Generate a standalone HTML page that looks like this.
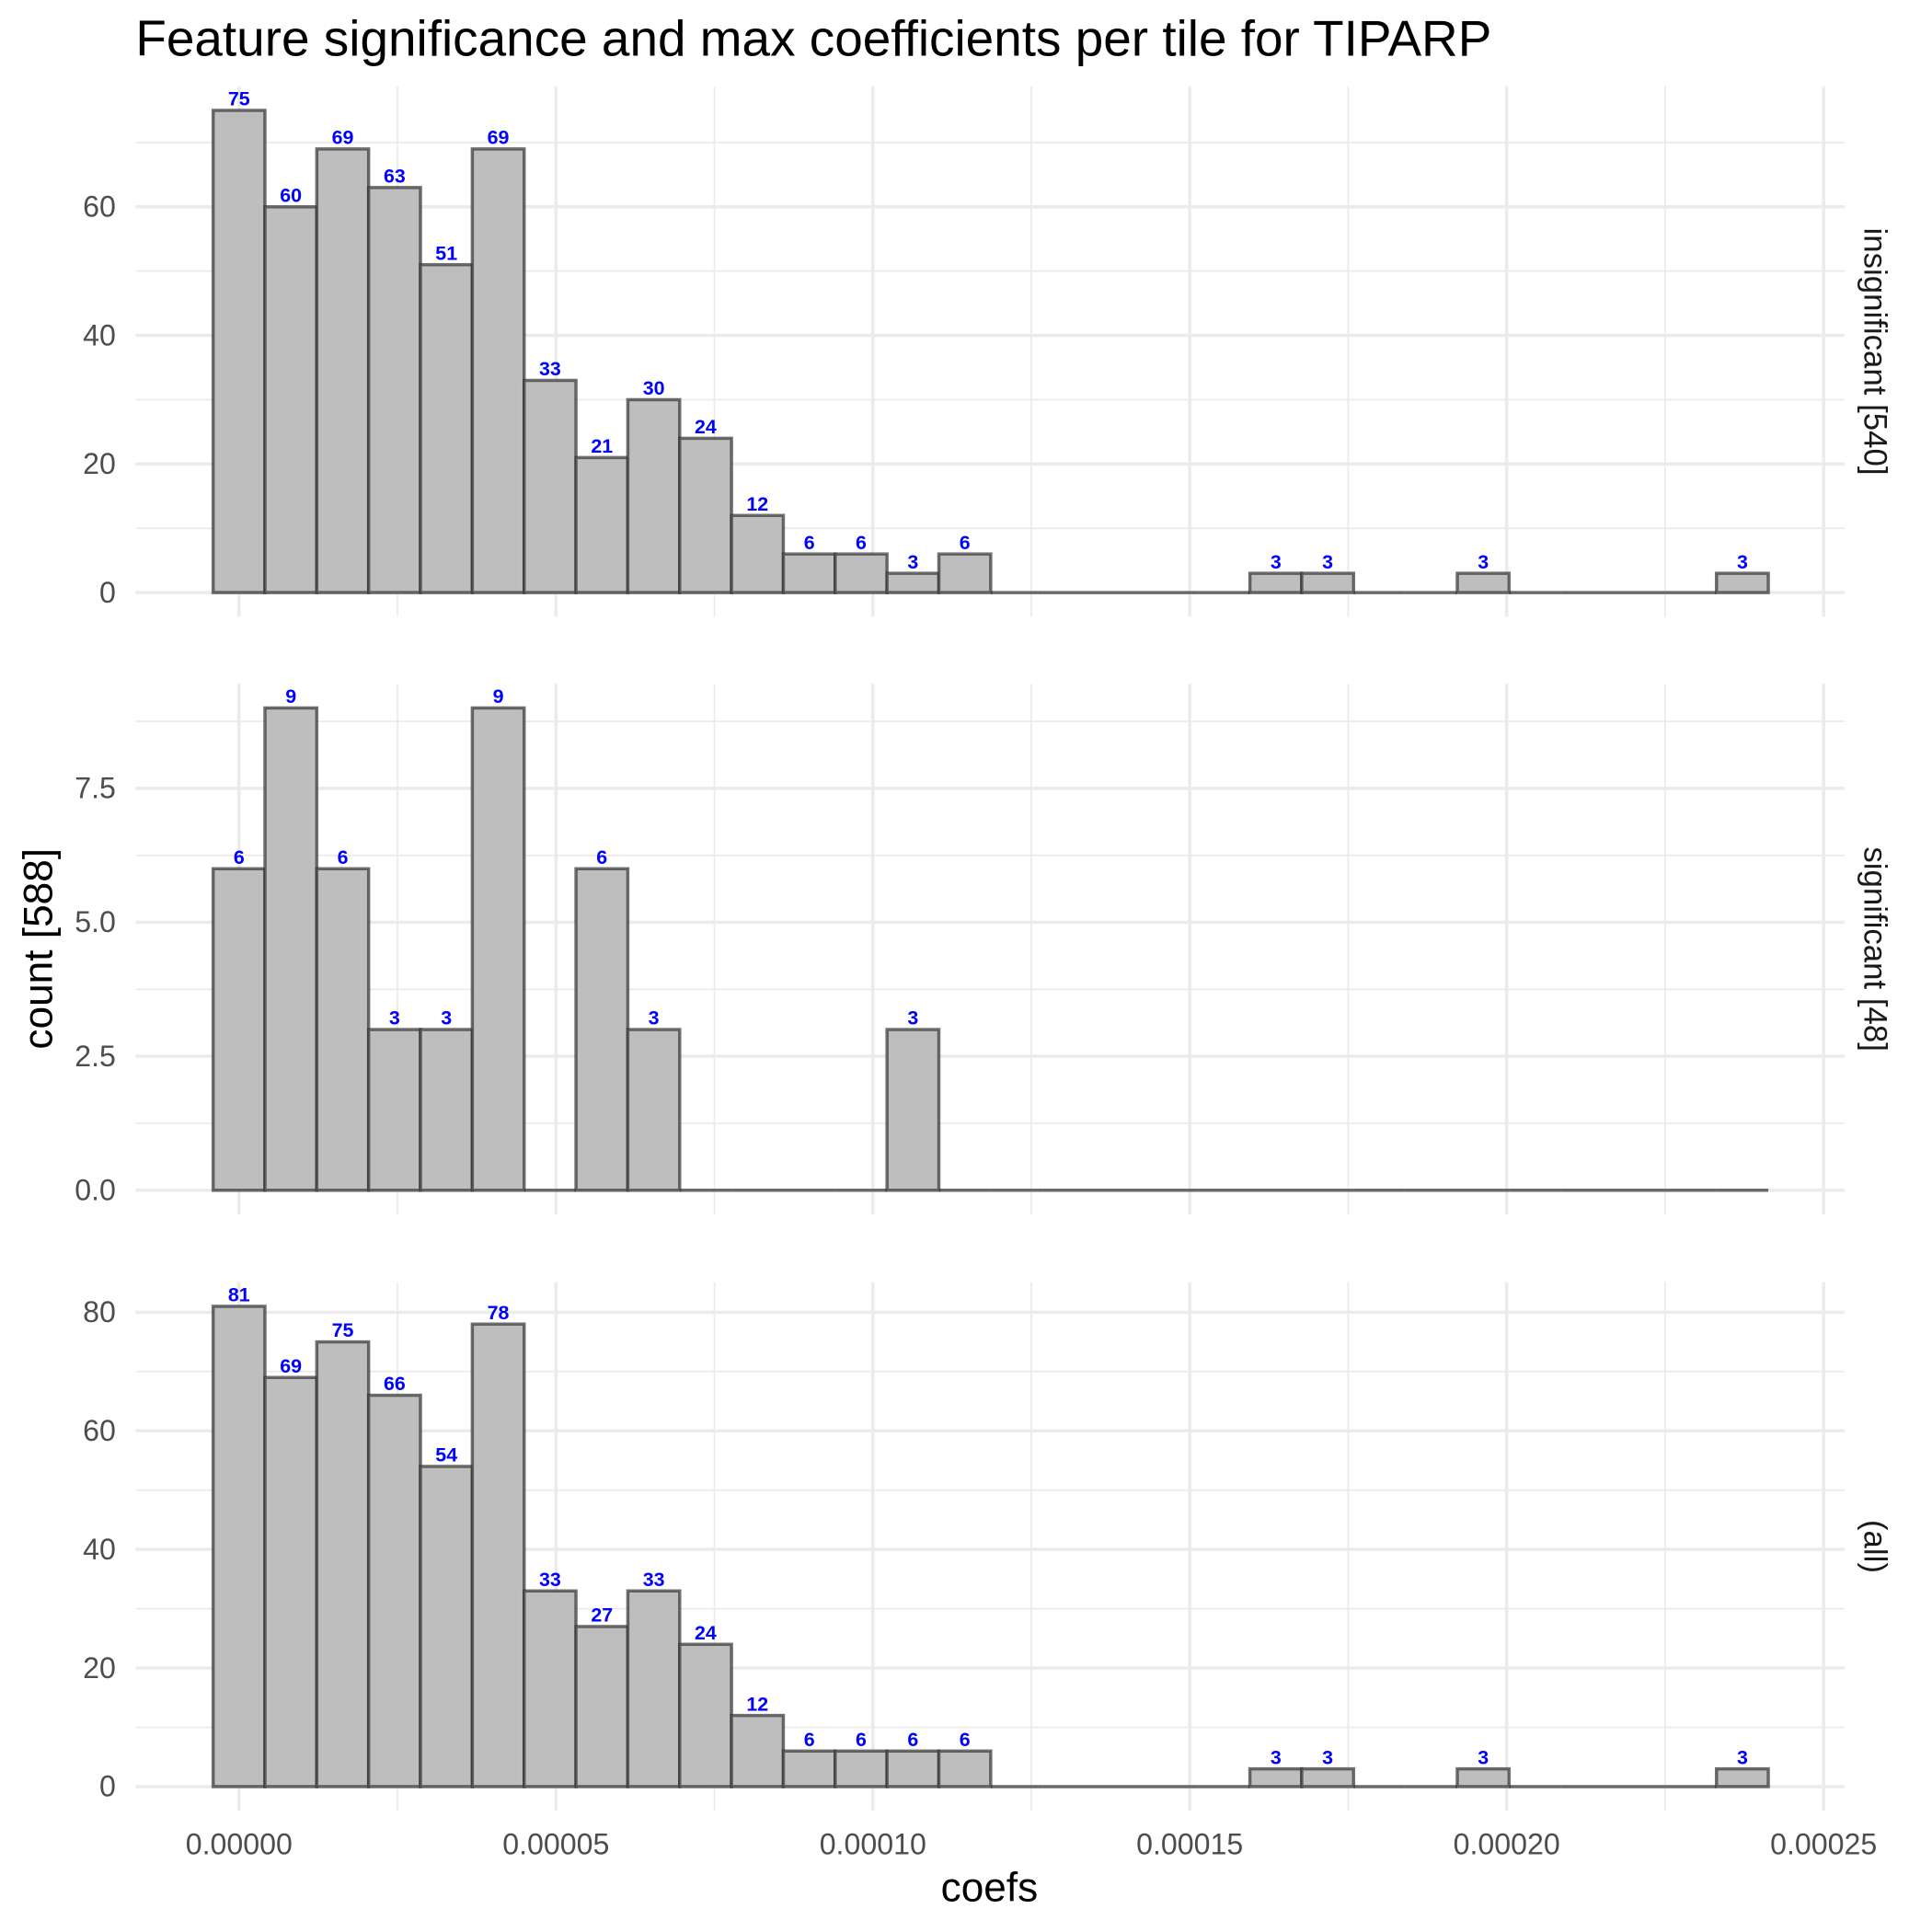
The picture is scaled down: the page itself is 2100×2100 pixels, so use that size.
<!DOCTYPE html>
<html><head><meta charset="utf-8">
<style>html,body{margin:0;padding:0;background:#fff}svg{display:block}</style>
</head><body>
<svg id="chart" xmlns="http://www.w3.org/2000/svg" width="2100" height="2100" viewBox="0 0 1568 1568" font-family="'Liberation Sans', sans-serif">
<rect width="1568" height="1568" fill="#fff"/>
<text x="110" y="45" font-size="41" fill="#000">Feature significance and max coefficients per tile for TIPARP</text>
<text x="803" y="1543" font-size="33" text-anchor="middle" fill="#000">coefs</text>
<text transform="translate(42,770) rotate(-90)" font-size="33" text-anchor="middle" fill="#000">count [588]</text>
<g id="plot"></g>
</svg>
<script>
const panelNames = ["insignificant [540]", "significant [48]", "(all)"];
const countsInsig = [75,60,69,63,51,69,33,21,30,24,12,6,6,3,6,0,0,0,0,0,3,3,0,0,3,0,0,0,0,3];
const countsSig = [6,9,6,3,3,9,0,6,3,0,0,0,0,3,0,0,0,0,0,0,0,0,0,0,0,0,0,0,0,0];
const countsAll = [81,69,75,66,54,78,33,27,33,24,12,6,6,6,6,0,0,0,0,0,3,3,0,0,3,0,0,0,0,3];
const binWidth = 0.000008179;
const firstBinCenter = 0;
const xTicks = [0, 0.00005, 0.0001, 0.00015, 0.0002, 0.00025];
const xTickLabels = ["0.00000","0.00005","0.00010","0.00015","0.00020","0.00025"];
const yTicks1 = [0,20,40,60];
const yTicks2 = [0,2.5,5,7.5];
const yTickLabels2 = ["0.0","2.5","5.0","7.5"];
const yTicks3 = [0,20,40,60,80];

const NS = "http://www.w3.org/2000/svg";
const plot = document.getElementById("plot");
function mk(tag, attrs, parent){const e=document.createElementNS(NS,tag);for(const k in attrs)e.setAttribute(k,attrs[k]);(parent||plot).appendChild(e);return e;}

const PL=110, PR=1497;
const x = v => 194 + v*(1286/0.00025);
const panels = [
  {counts:countsInsig, ticks:yTicks1, labels:yTicks1.map(String), top:70, bottom:500.5, minor:10, name:"insig"},
  {counts:countsSig, ticks:yTicks2, labels:yTickLabels2, top:555, bottom:985.6, minor:1.25, name:"sig"},
  {counts:countsAll, ticks:yTicks3, labels:yTicks3.map(String), top:1040.7, bottom:1469.5, minor:10, name:"all"}
];

panels.forEach((p, pi) => {
  const maxC = Math.max(...p.counts);
  const lo = -0.05*maxC, hi = maxC*1.05;
  const y = v => p.bottom - (v-lo)/(hi-lo)*(p.bottom-p.top);
  const g = mk("g", {});
  
  
  for (let v = p.minor; v < hi; v += p.minor*2) {
    const l = mk("line",{x1:PL,x2:PR,y1:y(v),y2:y(v),stroke:"#ebebeb","stroke-width":1.3},g);
    
    
  }
  for (let i = 0; i < xTicks.length-1; i++) {
    const xv = x((xTicks[i]+xTicks[i+1])/2);
    const l = mk("line",{x1:xv,x2:xv,y1:p.top,y2:p.bottom,stroke:"#ebebeb","stroke-width":1.3},g);
    
    
  }
  p.ticks.forEach((t, i) => {
    const l = mk("line",{x1:PL,x2:PR,y1:y(t),y2:y(t),stroke:"#ebebeb","stroke-width":2.6},g);
    
    
    const tx = mk("text",{x:94,y:y(t)+8,"font-size":24,"text-anchor":"end",fill:"#4d4d4d"},g);
    tx.textContent = p.labels[i];
    
    
  });
  xTicks.forEach(t => {
    const l = mk("line",{x1:x(t),x2:x(t),y1:p.top,y2:p.bottom,stroke:"#ebebeb","stroke-width":2.6},g);
    
    
  });
  p.counts.forEach((c, i) => {
    const c0 = firstBinCenter + i*binWidth;
    const x0 = x(c0 - binWidth/2), x1 = x(c0 + binWidth/2);
    if (c > 0) {
      const r = mk("rect",{x:x0,y:y(c),width:x1-x0,height:y(0)-y(c),fill:"#bebebe",stroke:"#333","stroke-opacity":0.7,"stroke-width":2.6},g);
      
      
      const t = mk("text",{x:(x0+x1)/2,y:y(c)-4,"font-size":16,"font-weight":"bold","text-anchor":"middle",fill:"#0000ff"},g);
      t.textContent = String(c);
      
      
    } else {
      const l = mk("line",{x1:x0,x2:x1,y1:y(0),y2:y(0),stroke:"#333","stroke-opacity":0.7,"stroke-width":2.6},g);
      
      
    }
  });
  const cy = (p.top + p.bottom)/2;
  const s = mk("text",{transform:`translate(1513,${cy}) rotate(90)`,"font-size":26,"text-anchor":"middle",fill:"#1a1a1a"},g);
  s.textContent = panelNames[pi];
  
  
});

xTicks.forEach((t, i) => {
  const tx = mk("text",{x:x(t),y:1505,"font-size":24,"text-anchor":"middle",fill:"#4d4d4d"});
  tx.textContent = xTickLabels[i];
  
  
});
</script>
</body></html>
